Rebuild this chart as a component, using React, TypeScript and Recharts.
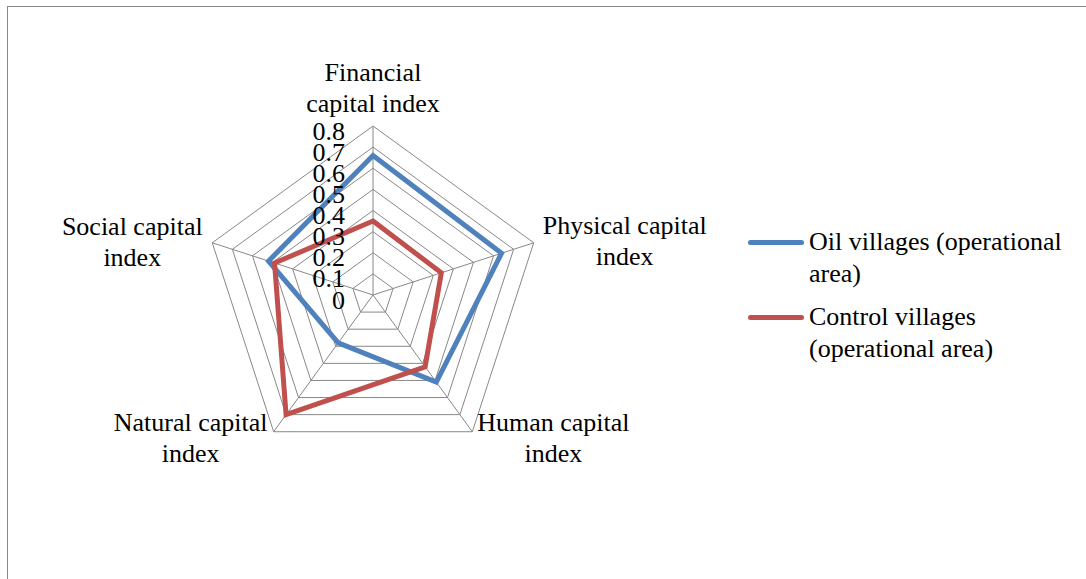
import React from 'react';
import { RadarChart, Radar, PolarGrid, PolarAngleAxis, PolarRadiusAxis, Legend } from 'recharts';

const categories = [
  'Financial capital index',
  'Physical capital index',
  'Human capital index',
  'Natural capital index',
  'Social capital index',
];
const oilValues = [0.66, 0.64, 0.51, 0.28, 0.52];
const controlValues = [0.35, 0.34, 0.42, 0.70, 0.49];
const radiusTicks = [0, 0.1, 0.2, 0.3, 0.4, 0.5, 0.6, 0.7, 0.8];
const seriesNames = ['Oil villages (operational area)', 'Control villages (operational area)'];
const seriesColors = ['#4f81bd', '#c0504d'];

const data = categories.map((name, i) => ({ name, oil: oilValues[i], control: controlValues[i] }));

const FONT = 'Liberation Serif, Tinos, DejaVu Serif, serif';
const CX = 373;
const CY = 295;
const R = 169;

// where each category label sits, relative to its spoke end
const labelOffsets = [
  { dx: 0, dy: -54 },
  { dx: 91, dy: -17 },
  { dx: 81, dy: -9 },
  { dx: -83, dy: -9 },
  { dx: -80, dy: -16 },
];

const wrapLabel = (s: string) => {
  if (s.startsWith('Financial')) {
    const k = s.indexOf(' ');
    return [s.slice(0, k), s.slice(k + 1)];
  }
  const k = s.lastIndexOf(' ');
  return [s.slice(0, k), s.slice(k + 1)];
};

const AngleTick = (props: any) => {
  const value = props.payload.value;
  const i = categories.indexOf(value);
  const ang = ((90 - i * 72) * Math.PI) / 180;
  const vx = CX + R * Math.cos(ang);
  const vy = CY - R * Math.sin(ang);
  const o = labelOffsets[i];
  const lines = wrapLabel(value);
  return (
    <text x={vx + o.dx} y={vy + o.dy} textAnchor="middle" style={{ fontFamily: FONT }} fontSize={26} fill="#000">
      {lines.map((l, j) => (
        <tspan key={j} x={vx + o.dx} dy={j === 0 ? 0 : 31} dominantBaseline="central">{l}</tspan>
      ))}
    </text>
  );
};

const RadiusTick = (props: any) => {
  const v = Number(Number(props.payload.value).toFixed(1));
  return (
    <text x={props.x - 28} y={props.y + 5} textAnchor="end" dominantBaseline="central" style={{ fontFamily: FONT }} fontSize={26} fill="#000">
      {String(v)}
    </text>
  );
};

const LegendContent = () => (
  <div style={{ fontFamily: FONT, fontSize: 26, lineHeight: '32px', color: '#000' }}>
    {seriesNames.map((n, i) => (
      <div key={n} style={{ display: 'flex', alignItems: 'flex-start', marginBottom: 11 }}>
        <div style={{ width: 56, height: 5, borderRadius: 3, background: seriesColors[i], marginTop: 14, flex: 'none' }} />
        <div style={{ width: 272, marginLeft: 5 }}>{n}</div>
      </div>
    ))}
  </div>
);

export default function App() {
  return (
    <div style={{ position: 'absolute', left: 0, top: 0, width: 1086, height: 579, background: '#fff', overflow: 'hidden', fontFamily: FONT }}>
      <div style={{ position: 'absolute', left: 7, top: 6, width: 1200, height: 700, borderTop: '1.5px solid #8a8a8a', borderLeft: '1.5px solid #8a8a8a' }} />
      <RadarChart width={1086} height={579} data={data} cx={CX} cy={CY} outerRadius={R} style={{ position: 'absolute', left: 0, top: 0 }}>
        <PolarGrid gridType="polygon" stroke="#888" strokeWidth={1} />
        <PolarAngleAxis dataKey="name" tick={<AngleTick />} tickLine={false} axisLine={false} />
        <PolarRadiusAxis
          type="number"
          angle={90}
          domain={[0, 0.8]}
          ticks={radiusTicks as any}
          tickCount={radiusTicks.length}
          allowDecimals={true}
          allowDataOverflow={true}
          orientation="left"
          axisLine={false}
          tickLine={false}
          tick={<RadiusTick />}
        />
        <Radar name={seriesNames[0]} dataKey="oil" stroke={seriesColors[0]} strokeWidth={5} fill="none" fillOpacity={0} dot={false} isAnimationActive={false} />
        <Radar name={seriesNames[1]} dataKey="control" stroke={seriesColors[1]} strokeWidth={5} fill="none" fillOpacity={0} dot={false} isAnimationActive={false} />
        <Legend content={<LegendContent />} layout="vertical" wrapperStyle={{ position: 'absolute', left: 748, top: 226, width: 338 }} />
      </RadarChart>
    </div>
  );
}
